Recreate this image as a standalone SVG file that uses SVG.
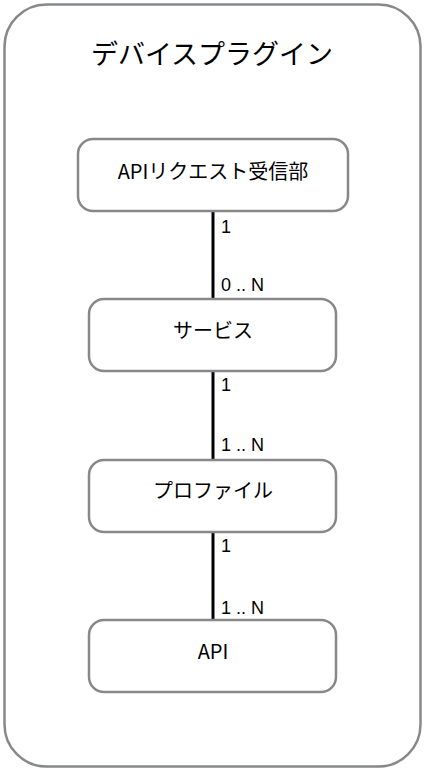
<svg xmlns="http://www.w3.org/2000/svg" width="426" height="771" viewBox="0 0 426 771">
<style>
.box{fill:#fff;stroke:#87888a;stroke-width:2.5}
.t{font-family:"Noto Sans CJK JP","Liberation Sans",sans-serif;fill:#000;text-anchor:middle}
.lbl{font-family:"Liberation Sans","Noto Sans CJK JP",sans-serif;font-size:18px;fill:#000}
.edge{stroke:#000;stroke-width:3;fill:none}
</style>
<rect width="426" height="771" fill="#fff"/>
<g id="container">
<rect class="box" x="4.5" y="4.5" width="416" height="762" rx="42" ry="42"/>
<text class="t" x="212" y="64" font-size="27">デバイスプラグイン</text>
</g>
<g id="connectors">
<line class="edge" x1="213" y1="212" x2="213" y2="299"/>
<line class="edge" x1="213" y1="372" x2="213" y2="459"/>
<line class="edge" x1="213" y1="532" x2="213" y2="619"/>
<text class="lbl" x="221" y="233">1</text>
<text class="lbl" x="221" y="291">0 .. N</text>
<text class="lbl" x="221" y="391">1</text>
<text class="lbl" x="221" y="451">1 .. N</text>
<text class="lbl" x="221" y="552">1</text>
<text class="lbl" x="221" y="614">1 .. N</text>
</g>
<g id="api-request">
<rect class="box" x="78" y="139" width="270" height="72" rx="15" ry="15"/>
<text class="t" x="213" y="179" font-size="20">APIリクエスト受信部</text>
</g>
<g id="service">
<rect class="box" x="89" y="299" width="247" height="72" rx="15" ry="15"/>
<text class="t" x="213" y="338" font-size="20">サービス</text>
</g>
<g id="profile">
<rect class="box" x="89" y="460" width="247" height="72" rx="15" ry="15"/>
<text class="t" x="213" y="498" font-size="20">プロファイル</text>
</g>
<g id="api">
<rect class="box" x="89" y="620" width="247" height="72" rx="15" ry="15"/>
<text class="t" x="213" y="659" font-size="20">API</text>
</g>
</svg>
